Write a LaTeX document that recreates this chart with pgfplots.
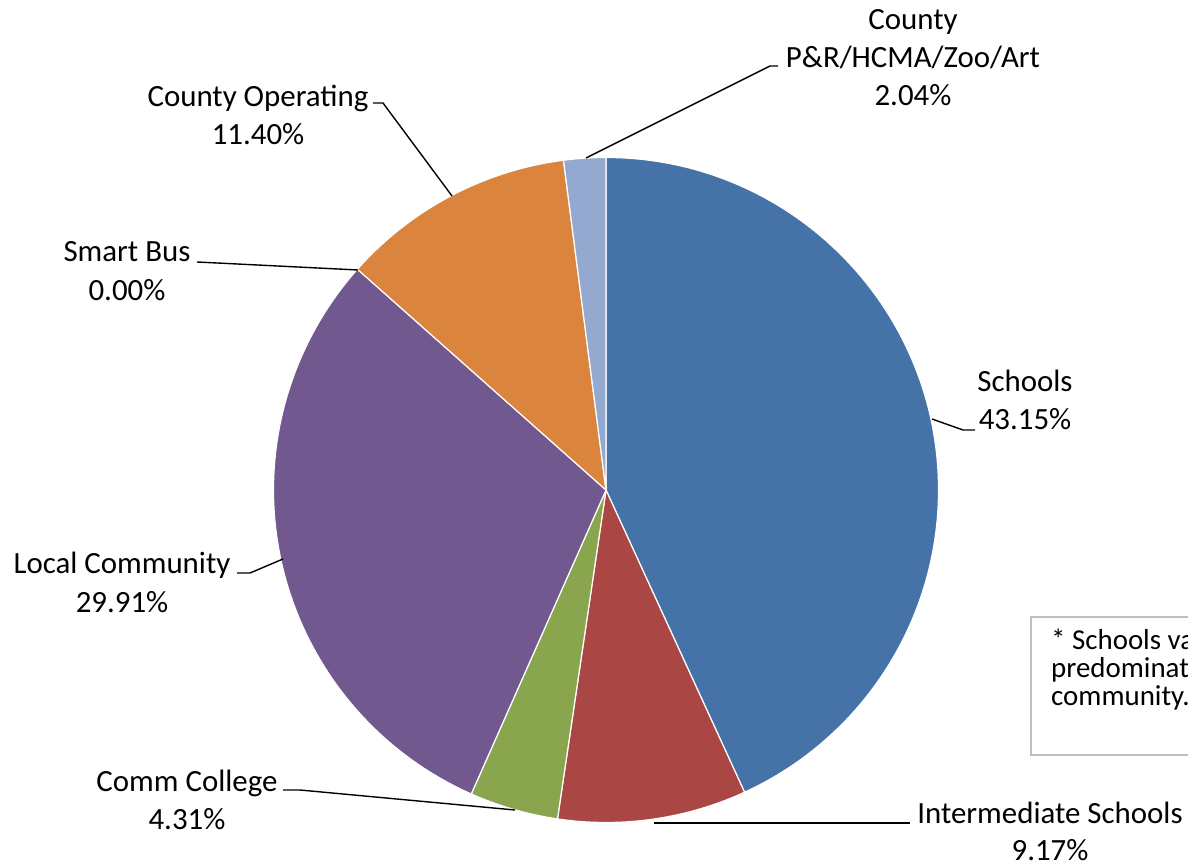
\documentclass[border=0pt]{standalone}
\usepackage{pgfplots}
\pgfplotsset{compat=1.18}
\usepackage{fontspec}
\setmainfont{Carlito}

\definecolor{cSchools}{HTML}{4572A7}
\definecolor{cInter}{HTML}{AA4643}
\definecolor{cComm}{HTML}{89A54E}
\definecolor{cLocal}{HTML}{71588F}
\definecolor{cCounty}{HTML}{DB843D}
\definecolor{cPark}{HTML}{93A9CF}

\begin{document}
\begin{tikzpicture}[
    lab/.style={anchor=base, inner sep=0pt, font=\fontsize{31}{38}\selectfont},
    note/.style={anchor=base west, inner sep=0pt, font=\fontsize{29}{33}\selectfont},
    lead/.style={black, line width=1.4bp},
    slice/.style={draw=white, line width=1.2bp},
]
% shares in percent, clockwise from 12 o'clock
\pgfmathsetmacro\k{360/99.98}
\pgfmathsetmacro\aA{90}
\pgfmathsetmacro\aB{\aA-43.15*\k}  % Schools
\pgfmathsetmacro\aC{\aB-9.17*\k}   % Intermediate Schools
\pgfmathsetmacro\aD{\aC-4.31*\k}   % Comm College
\pgfmathsetmacro\aE{\aD-29.91*\k}  % Local Community
\pgfmathsetmacro\aF{\aE-0.00*\k}   % Smart Bus
\pgfmathsetmacro\aG{\aF-11.40*\k}  % County Operating
\pgfmathsetmacro\aH{\aG-2.04*\k}   % County P&R/HCMA/Zoo/Art
\begin{axis}[
    scale only axis,
    width=1188bp, height=865bp,
    xmin=0, xmax=1188, ymin=-865, ymax=0,
    hide axis,
]
\coordinate (bl) at (axis cs:0,-865);
\coordinate (tr) at (axis cs:1188,0);
\def\r{332.5bp}
\fill[cSchools, slice] (axis cs:606,-490) -- ++(\aA:\r) arc[start angle=\aA, end angle=\aB, radius=\r] -- cycle;
\fill[cInter, slice] (axis cs:606,-490) -- ++(\aB:\r) arc[start angle=\aB, end angle=\aC, radius=\r] -- cycle;
\fill[cComm, slice] (axis cs:606,-490) -- ++(\aC:\r) arc[start angle=\aC, end angle=\aD, radius=\r] -- cycle;
\fill[cLocal, slice] (axis cs:606,-490) -- ++(\aD:\r) arc[start angle=\aD, end angle=\aE, radius=\r] -- cycle;
\fill[cCounty, slice] (axis cs:606,-490) -- ++(\aF:\r) arc[start angle=\aF, end angle=\aG, radius=\r] -- cycle;
\fill[cPark, slice] (axis cs:606,-490) -- ++(\aG:\r) arc[start angle=\aG, end angle=\aH, radius=\r] -- cycle;

% leader lines
\draw[lead] (axis cs:586,-158) -- (axis cs:770,-66) -- (axis cs:778,-66);
\draw[lead] (axis cs:373,-103) -- (axis cs:383,-103) -- (axis cs:452,-196);
\draw[lead] (axis cs:197,-262) -- (axis cs:358,-270);
\draw[lead] (axis cs:932,-419) -- (axis cs:963,-430) -- (axis cs:975,-430);
\draw[lead] (axis cs:237,-573) -- (axis cs:250,-573) -- (axis cs:283,-559);
\draw[lead] (axis cs:283,-790) -- (axis cs:300,-790) -- (axis cs:515,-810);
\draw[lead] (axis cs:654,-823) -- (axis cs:910,-823);

% data labels
\node[lab] at (axis cs:913,-30) {County};
\node[lab] at (axis cs:913,-68) {P\&R/HCMA/Zoo/Art};
\node[lab] at (axis cs:913,-106) {2.04\%};
\node[lab] at (axis cs:258,-107) {County Operating};
\node[lab] at (axis cs:258,-145) {11.40\%};
\node[lab] at (axis cs:127,-262) {Smart Bus};
\node[lab] at (axis cs:127,-301) {0.00\%};
\node[lab] at (axis cs:1025,-392) {Schools};
\node[lab] at (axis cs:1025,-430) {43.15\%};
\node[lab] at (axis cs:122,-574) {Local Community};
\node[lab] at (axis cs:122,-612) {29.91\%};
\node[lab] at (axis cs:187,-791) {Comm College};
\node[lab] at (axis cs:187,-829) {4.31\%};
\node[lab] at (axis cs:1050,-823) {Intermediate Schools};
\node[lab] at (axis cs:1050,-860) {9.17\%};

% note box, cut by the right edge
\draw[color=black!25, line width=1.4bp] (axis cs:1300,-617) -- (axis cs:1031,-617) -- (axis cs:1031,-755) -- (axis cs:1300,-755);
\node[note] at (axis cs:1051,-649) {* Schools vary based on the};
\node[note] at (axis cs:1051,-677) {predominate school district};
\node[note] at (axis cs:1051,-705) {community.};
\end{axis}
\pgfresetboundingbox
\useasboundingbox (bl) rectangle (tr);
\end{tikzpicture}
\end{document}
